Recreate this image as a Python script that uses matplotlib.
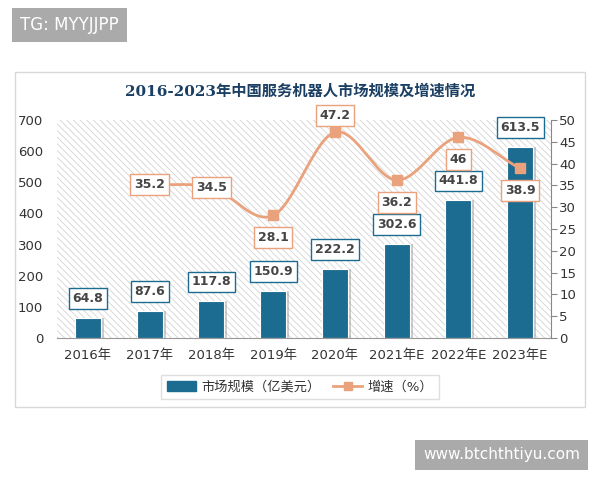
import numpy as np
import matplotlib
matplotlib.use("Agg")
import matplotlib.pyplot as plt
from matplotlib.patches import Rectangle
from matplotlib.lines import Line2D
from matplotlib.patches import Patch

plt.rcParams['font.family'] = ['DejaVu Sans', 'Noto Sans CJK SC']
plt.rcParams['hatch.color'] = '#d4d4d4'
plt.rcParams['hatch.linewidth'] = 0.6

categories = ['2016年', '2017年', '2018年', '2019年', '2020年', '2021年E', '2022年E', '2023年E']
market = [64.8, 87.6, 117.8, 150.9, 222.2, 302.6, 441.8, 613.5]
growth_idx = [1, 2, 3, 4, 5, 6, 7]
growth = [35.2, 34.5, 28.1, 47.2, 36.2, 46, 38.9]
growth_label_pos = ['on', 'on', 'below', 'above', 'below', 'below', 'below']

bar_color = '#1c6b90'
line_color = '#e9a27c'
title_color = '#1b3f63'

fig = plt.figure(figsize=(6, 4.8), dpi=100)

# card border
fig.patches.append(Rectangle((15/600, 1-407/480), 570/600, 335/480, transform=fig.transFigure,
                             facecolor='white', edgecolor='#d8d8d8', lw=1, zorder=0))

ax = fig.add_axes([57/600, 1-338/480, 494/600, 218/480])
ax2 = ax.twinx()

x = np.arange(len(categories))
ax.set_xlim(-0.5, len(categories)-0.5)
ax.set_ylim(0, 700)
ax2.set_ylim(0, 50)

# hatched background
ax.add_patch(Rectangle((0, 0), 1, 1, transform=ax.transAxes, facecolor='white',
                       hatch='\\\\\\\\\\', edgecolor='#d4d4d4', lw=0, zorder=0))

# shadow + bars
ax.bar(x + 0.05, market, width=0.42, color='#9a9a9a', alpha=0.5, zorder=1, linewidth=0)
ax.bar(x, market, width=0.42, color=bar_color, zorder=2, edgecolor='white', linewidth=0.8)

for xi, v in zip(x, market):
    ax.annotate(f'{v}', (xi, v), xytext=(0, 14), textcoords='offset points',
                ha='center', va='center', fontsize=9, color='#454545', fontweight='bold', zorder=6,
                bbox=dict(boxstyle='square,pad=0.3', fc='white', ec=bar_color, lw=1))

# smooth growth line (Catmull-Rom through the data points)
gx = np.array(growth_idx, float)
gy = np.array(growth, float)
P = np.vstack([gx, gy]).T
Pext = np.vstack([P[0] - (P[1]-P[0]), P, P[-1] + (P[-1]-P[-2])])
xs, ys = [], []
for i in range(1, len(Pext)-2):
    p0, p1, p2, p3 = Pext[i-1], Pext[i], Pext[i+1], Pext[i+2]
    t = np.linspace(0, 1, 30)[:, None]
    pts = 0.5*((2*p1) + (-p0+p2)*t + (2*p0-5*p1+4*p2-p3)*t**2 + (-p0+3*p1-3*p2+p3)*t**3)
    xs.extend(pts[:, 0]); ys.extend(pts[:, 1])
ax2.plot(xs, ys, color=line_color, lw=2, zorder=3)
ax2.plot(gx, gy, 's', color=line_color, ms=7, zorder=4, markeredgecolor=line_color)

for xi, v, pos in zip(gx, gy, growth_label_pos):
    off = {'on': 0, 'below': -16, 'above': 12}[pos]
    ax2.annotate(f'{v:g}', (xi, v), xytext=(0, off), textcoords='offset points',
                 ha='center', va='center', fontsize=9, color='#454545', fontweight='bold', zorder=6,
                 bbox=dict(boxstyle='square,pad=0.3', fc='white', ec=line_color, lw=1))

ax.set_zorder(1)
ax2.set_zorder(2)
ax2.patch.set_visible(False)

# axes styling
ax.set_xticks(x)
ax.set_xticklabels(categories, fontsize=9.5, color='#333333')
ax.set_yticks(np.arange(0, 701, 100))
ax.tick_params(axis='y', length=0, labelsize=9.5, labelcolor='#333333', pad=10)
ax.tick_params(axis='x', length=0, pad=8)
ax2.set_yticks(np.arange(0, 51, 5))
ax2.tick_params(axis='y', length=4, labelsize=9.5, labelcolor='#333333', color='#888888', pad=2)
for a in (ax, ax2):
    for s in ['top', 'left', 'right', 'bottom']:
        a.spines[s].set_visible(False)
ax2.spines['right'].set_visible(True)
ax2.spines['right'].set_color('#888888')
ax.spines['bottom'].set_visible(True)
ax.spines['bottom'].set_color('#999999')

# title
fig.text(0.5, 1-91/480, '2016-2023年中国服务机器人市场规模及增速情况', ha='center', va='center',
         fontsize=11, fontweight='bold', color=title_color,
         family=['DejaVu Serif', 'Noto Sans CJK SC'])

# legend
handles = [Patch(facecolor=bar_color, edgecolor=bar_color),
           Line2D([0], [0], color=line_color, lw=2, marker='s', ms=6)]
leg = fig.legend(handles, ['市场规模（亿美元）', '增速（%）'], loc='center',
                 bbox_to_anchor=(0.5, 1-387/480), ncol=2, fontsize=9.5, frameon=True,
                 fancybox=False, edgecolor='#d8d8d8', handlelength=2.2, columnspacing=1.0,
                 handletextpad=0.4, borderpad=0.4)
for t in leg.get_texts():
    t.set_color('#333333')

# watermarks
fig.text(20/600, 1-25/480, 'TG: MYYJJPP', ha='left', va='center', fontsize=12, color='white',
         bbox=dict(boxstyle='square,pad=0.5', fc='#aaaaaa', ec='none'))
fig.text(580/600, 1-455/480, 'www.btchthtiyu.com', ha='right', va='center', fontsize=11, color='white',
         bbox=dict(boxstyle='square,pad=0.5', fc='#aaaaaa', ec='none'))

fig.savefig('out.png', dpi=100)
